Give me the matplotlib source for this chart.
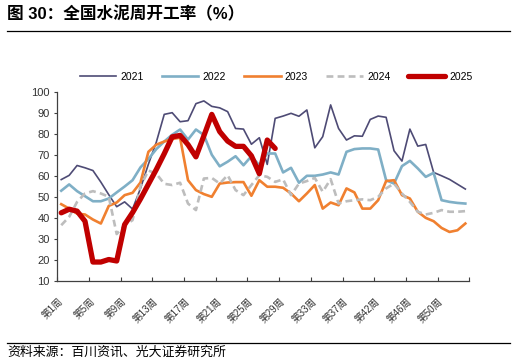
import matplotlib
matplotlib.use("Agg")
import matplotlib.pyplot as plt
import numpy as np

plt.rcParams["font.family"] = ["Liberation Sans", "Noto Sans CJK SC", "DejaVu Sans"]
plt.rcParams["axes.unicode_minus"] = False

# 每年第1周起的周开工率（%），52个周次类别
y2021 = [58.2, 60.2, 64.9, 63.8, 62.5, 57.0, 51.0, 45.3, 47.6, 44.2,
         54.0, 65.5, 76.0, 89.2, 90.0, 85.7, 86.2, 94.3, 95.6, 93.0,
         92.3, 90.5, 82.5, 82.2, 75.0, 78.1, 65.4, 87.3, 88.4, 89.7,
         88.3, 91.3, 73.3, 78.6, 93.7, 82.5, 77.0, 79.0, 78.8, 86.8,
         88.4, 87.8, 71.9, 67.0, 82.2, 74.1, 74.9, 61.6, 60.0, 58.3,
         56.0, 53.7]
y2022 = [52.9, 55.9, 52.7, 50.3, 47.9, 47.9, 49.2, 52.1, 54.9, 57.9,
         64.0, 68.0, 72.7, 76.3, 79.5, 82.0, 77.2, 82.0, 79.4, 70.0,
         64.5, 66.7, 69.3, 65.0, 69.3, 65.0, 70.6, 70.6, 61.6, 63.8,
         56.7, 60.0, 60.0, 60.6, 61.6, 60.6, 71.4, 72.7, 73.0, 73.0,
         72.5, 57.9, 56.3, 64.6, 67.1, 63.5, 59.5, 61.4, 48.4, 47.6,
         47.1, 46.8]
y2023 = [46.5, 44.4, 42.0, 41.6, 39.2, 37.3, 45.7, 47.3, 50.8, 51.9,
         56.8, 71.4, 74.8, 76.3, 77.5, 78.1, 57.9, 53.2, 51.3, 50.0,
         56.3, 56.8, 57.0, 57.0, 50.5, 57.9, 54.8, 54.8, 54.3, 51.6,
         47.9, 51.6, 55.6, 44.4, 47.3, 46.0, 54.0, 52.1, 44.4, 44.4,
         48.4, 57.5, 57.9, 50.8, 49.2, 42.9, 40.0, 38.4, 35.2, 33.3,
         34.1, 37.3]
y2024 = [36.5, 40.5, 47.6, 51.6, 52.7, 51.6, 50.0, 32.3, 36.5, 38.9,
         55.0, 62.5, 61.0, 56.2, 55.6, 56.7, 46.8, 43.7, 58.7, 59.0,
         56.3, 60.3, 53.2, 50.8, 55.6, 60.3, 59.5, 57.1, 58.3, 50.8,
         56.3, 57.5, 59.0, 52.4, 58.4, 46.8, 47.9, 48.4, 48.8, 48.4,
         50.0, 54.0, 56.3, 51.6, 47.6, 42.9, 41.6, 42.4, 43.7, 42.9,
         42.9, 43.2]
y2025 = [42.4, 44.1, 43.2, 38.4, 19.0, 19.0, 20.2, 19.5, 36.8, 42.5,
         49.0, 56.0, 63.0, 70.5, 78.5, 79.2, 74.8, 69.0, 79.0, 89.2,
         81.0, 76.5, 74.0, 74.0, 69.5, 61.0, 77.0, 73.0]

n_weeks = 52
tick_labels = ["第1周", "第5周", "第9周", "第13周", "第17周", "第21周", "第25周",
               "第29周", "第33周", "第37周", "第42周", "第46周", "第50周"]

fig = plt.figure(figsize=(5.16, 3.63), dpi=100)
ax = fig.add_axes([0.111, 0.226, 0.7985, 0.5215])

x = np.arange(n_weeks)
ax.plot(x, y2021, color="#4E4B75", lw=1.2, label="2021")
ax.plot(x, y2022, color="#7FAFC6", lw=1.9, label="2022")
ax.plot(x, y2023, color="#F08030", lw=1.9, label="2023")
ax.plot(x, y2024, color="#BDBDBD", lw=1.9, ls=(0, (2.6, 1.6)), label="2024")
ax.plot(x[:len(y2025)], y2025, color="#C00000", lw=3.8,
        solid_joinstyle="round", solid_capstyle="round", label="2025")

ax.set_xlim(-0.5, n_weeks - 0.5)
ax.set_ylim(10, 100)
ax.set_yticks(range(10, 101, 10))

# 刻度线在类别边界，标签在类别中心
ax.set_xticks(np.arange(-0.5, n_weeks, 4))
ax.set_xticklabels([])
ax.set_xticks(np.arange(0, n_weeks, 4), minor=True)
ax.set_xticklabels(tick_labels, minor=True, rotation=45, ha="right",
                   va="center", rotation_mode="anchor", fontsize=7,
                   color="#333333")
ax.tick_params(axis="x", which="major", direction="in", length=3,
               color="#404040")
ax.tick_params(axis="x", which="minor", length=0, pad=13.5)
ax.tick_params(axis="y", direction="out", length=2.5, pad=3,
               labelsize=8, color="#404040", labelcolor="#333333")

for side in ("top", "right"):
    ax.spines[side].set_visible(False)
for side in ("left", "bottom"):
    ax.spines[side].set_color("#404040")
    ax.spines[side].set_linewidth(0.9)

fig.legend(loc="center", bbox_to_anchor=(0.535, 0.789), ncol=5,
           frameon=False, fontsize=7.5, handlelength=3.5,
           handletextpad=0.4, columnspacing=1.75)

# 标题、分隔线、资料来源
fig.text(0.0136, 0.961, "图 30：全国水泥周开工率（%）", fontsize=12,
         fontweight="bold", va="center", ha="left")
fig.add_artist(plt.Line2D([0.0136, 0.988], [0.9146, 0.9146], color="black",
                          lw=0.9, transform=fig.transFigure))
fig.add_artist(plt.Line2D([0.0136, 0.988], [0.056, 0.056], color="black",
                          lw=0.9, transform=fig.transFigure))
fig.text(0.0136, 0.030, "资料来源：百川资讯、光大证券研究所", fontsize=9.3,
         va="center", ha="left")

fig.savefig("out.png", dpi=100)
